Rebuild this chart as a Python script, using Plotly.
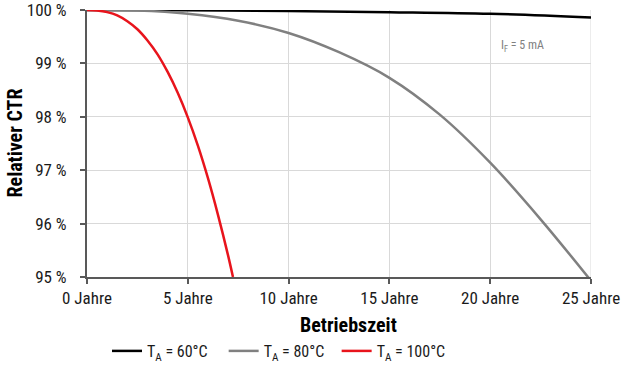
import plotly.graph_objects as go

# Data (Betriebszeit in Jahren, relativer CTR in %)
t_60 = [0, 5, 10, 15, 20, 25]
ctr_60 = [100.0, 99.995, 99.98, 99.96, 99.93, 99.86]

t_80 = [0, 2.5, 5, 7.5, 10, 12.5, 15, 17.5, 20, 22.5, 25]
ctr_80 = [100.0, 99.99, 99.93, 99.80, 99.57, 99.21, 98.73, 98.04, 97.14, 96.08, 94.93]

t_100 = [0, 0.5, 1, 1.5, 2, 2.5, 3, 3.5, 4, 4.5, 5, 5.5, 6, 6.5, 7, 7.24]
ctr_100 = [100.0, 99.99, 99.96, 99.90, 99.79, 99.64, 99.43, 99.17, 98.84, 98.45,
           97.99, 97.46, 96.85, 96.16, 95.4, 95.0]

x_ticks = [0, 5, 10, 15, 20, 25]
x_labels = ["0 Jahre", "5 Jahre", "10 Jahre", "15 Jahre", "20 Jahre", "25 Jahre"]
y_ticks = [95, 96, 97, 98, 99, 100]
y_labels = ["95 %", "96 %", "97 %", "98 %", "99 %", "100 %"]

series_names = ["T<sub>A</sub> = 60°C\u00a0\u00a0\u00a0", "T<sub>A</sub> = 80°C\u00a0\u00a0", "T<sub>A</sub> = 100°C"]
series_colors = ["#000000", "#808080", "#e8141c"]

FONT = "Liberation Sans Narrow, Roboto Condensed, Arial Narrow, Roboto, sans-serif"

fig = go.Figure()
for (tx, vy), name, col in zip([(t_60, ctr_60), (t_80, ctr_80), (t_100, ctr_100)], series_names, series_colors):
    fig.add_trace(go.Scatter(x=tx, y=vy, mode="lines", name=name,
                             line=dict(color=col, width=2.5, shape="spline", smoothing=1.0)))

fig.update_layout(
    width=630, height=370,
    margin=dict(l=87, r=39, t=10, b=93),
    paper_bgcolor="white", plot_bgcolor="white",
    font=dict(family=FONT, size=17, color="#1a1a1a"),
    showlegend=True,
    legend=dict(orientation="h", xref="container", x=107 / 630, xanchor="left",
                yref="container", y=19 / 370, yanchor="middle",
                font=dict(size=16, color="#1a1a1a"), itemwidth=30,
                bgcolor="rgba(0,0,0,0)"),
    xaxis=dict(range=[0, 25], tickvals=x_ticks, ticktext=x_labels, automargin=False,
               ticklabeloverflow="allow",
               showgrid=True, gridcolor="#d9d9d9", gridwidth=1,
               showline=True, linecolor="#595959", linewidth=2,
               ticks="outside", ticklen=5, tickcolor="#595959", tickwidth=2,
               zeroline=False, mirror=False),
    yaxis=dict(range=[95, 100], tickvals=y_ticks, ticktext=y_labels, automargin=False,
               ticklabeloverflow="allow", ticklabelstandoff=10,
               showgrid=True, gridcolor="#d9d9d9", gridwidth=1,
               showline=True, linecolor="#595959", linewidth=2,
               ticks="outside", ticklen=5, tickcolor="#595959", tickwidth=2,
               zeroline=False),
)

# right border grid line at 25 years
fig.add_shape(type="line", xref="x", yref="paper", x0=25, x1=25, y0=0, y1=1,
              line=dict(color="#d9d9d9", width=1), layer="below")

# axis titles
fig.add_annotation(text="<b>Betriebszeit</b>", xref="paper", yref="paper",
                   x=(348 - 87) / 504, y=(277 - 325) / 267, xanchor="center", yanchor="middle",
                   showarrow=False, font=dict(size=20, color="#000"))
fig.add_annotation(text="<b>Relativer CTR</b>", xref="paper", yref="paper",
                   x=(14 - 87) / 504, y=0.5, xanchor="center", yanchor="middle",
                   textangle=-90, showarrow=False, font=dict(size=20, color="#000"))

fig.add_annotation(text="I<sub>F</sub> = 5 mA", xref="x", yref="y", x=21.6, y=99.32,
                   xanchor="center", yanchor="middle",
                   showarrow=False, font=dict(size=12, color="#808080"))

fig.write_html("out.html", config={"displayModeBar": False},
               post_script="document.body.style.margin='0';")
